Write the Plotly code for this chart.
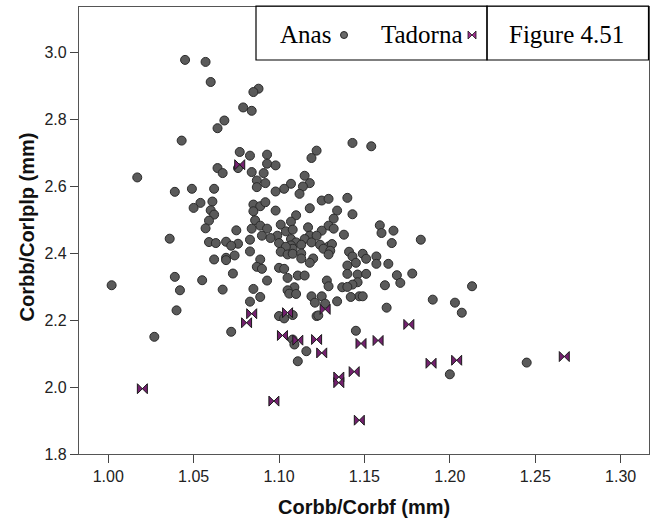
import plotly.graph_objects as go

# ---------------- data ----------------
anas_x = [1.045, 1.057, 1.060, 1.068, 1.064, 1.043, 1.017, 1.064, 1.067, 1.049,
          1.039, 1.062, 1.054, 1.050, 1.061, 1.060, 1.062, 1.059, 1.057, 1.036,
          1.059, 1.063, 1.069, 1.062, 1.069, 1.069, 1.039, 1.055, 1.042, 1.067,
          1.040, 1.002, 1.027, 1.072,
          1.088, 1.085, 1.079, 1.084, 1.077, 1.083, 1.093, 1.122, 1.119, 1.143, 1.154,
          1.076, 1.093, 1.098, 1.084, 1.091, 1.115, 1.087, 1.092, 1.087, 1.107,
          1.118, 1.114, 1.103, 1.098, 1.112, 1.140, 1.125, 1.129, 1.085, 1.089,
          1.092, 1.085, 1.118, 1.098, 1.134, 1.143, 1.110, 1.132, 1.086, 1.107,
          1.089, 1.101, 1.129, 1.159, 1.117, 1.093, 1.084, 1.075, 1.104, 1.108,
          1.125, 1.132, 1.167, 1.160, 1.138, 1.090, 1.099, 1.095, 1.118, 1.122,
          1.115, 1.107, 1.083, 1.100, 1.119, 1.110, 1.107, 1.183, 1.166, 1.076,
          1.072, 1.113, 1.124, 1.129, 1.131, 1.126, 1.108, 1.104, 1.083, 1.101,
          1.105, 1.108, 1.113, 1.130, 1.129, 1.141, 1.143, 1.149, 1.157, 1.151,
          1.113, 1.120, 1.118, 1.074, 1.089, 1.145, 1.140, 1.157, 1.164, 1.087,
          1.090, 1.100, 1.103, 1.073, 1.140, 1.146, 1.151, 1.169, 1.178, 1.111,
          1.115, 1.105, 1.093, 1.128, 1.146, 1.143, 1.171, 1.129, 1.137, 1.140,
          1.162, 1.085, 1.109, 1.105, 1.106, 1.110, 1.147, 1.149, 1.142, 1.089,
          1.119, 1.125, 1.083, 1.121, 1.127, 1.134, 1.163,
          1.100, 1.103, 1.108, 1.122, 1.123, 1.145, 1.108, 1.109, 1.116, 1.111,
          1.213, 1.190, 1.203, 1.207, 1.200, 1.245]
anas_y = [2.977, 2.971, 2.911, 2.796, 2.773, 2.736, 2.626, 2.654, 2.639, 2.592,
          2.583, 2.592, 2.550, 2.535, 2.554, 2.528, 2.515, 2.497, 2.474, 2.443,
          2.433, 2.430, 2.434, 2.381, 2.386, 2.379, 2.329, 2.319, 2.289, 2.291,
          2.229, 2.304, 2.150, 2.165,
          2.891, 2.881, 2.835, 2.825, 2.702, 2.691, 2.694, 2.706, 2.684, 2.729, 2.719,
          2.654, 2.667, 2.662, 2.642, 2.639, 2.631, 2.617, 2.609, 2.597, 2.607,
          2.609, 2.599, 2.592, 2.584, 2.577, 2.565, 2.557, 2.562, 2.545, 2.540,
          2.552, 2.525, 2.534, 2.527, 2.527, 2.516, 2.513, 2.503, 2.498, 2.494,
          2.482, 2.485, 2.482, 2.483, 2.477, 2.473, 2.473, 2.468, 2.465, 2.470,
          2.467, 2.473, 2.467, 2.460, 2.455, 2.452, 2.452, 2.445, 2.452, 2.452,
          2.442, 2.442, 2.440, 2.430, 2.432, 2.432, 2.423, 2.440, 2.430, 2.428,
          2.422, 2.425, 2.425, 2.420, 2.427, 2.413, 2.413, 2.419, 2.405, 2.404,
          2.396, 2.398, 2.399, 2.407, 2.396, 2.404, 2.390, 2.398, 2.390, 2.383,
          2.384, 2.384, 2.371, 2.393, 2.381, 2.371, 2.363, 2.368, 2.368, 2.359,
          2.353, 2.356, 2.353, 2.339, 2.338, 2.336, 2.338, 2.334, 2.339, 2.333,
          2.333, 2.326, 2.318, 2.318, 2.313, 2.306, 2.311, 2.301, 2.298, 2.299,
          2.304, 2.293, 2.298, 2.289, 2.279, 2.278, 2.271, 2.271, 2.269, 2.269,
          2.271, 2.271, 2.255, 2.252, 2.249, 2.256, 2.237,
          2.212, 2.205, 2.215, 2.212, 2.214, 2.168, 2.142, 2.127, 2.107, 2.077,
          2.301, 2.261, 2.252, 2.222, 2.038, 2.073]

tadorna_x = [1.020, 1.077, 1.084, 1.081, 1.105, 1.127, 1.102, 1.111, 1.122, 1.148,
             1.158, 1.125, 1.176, 1.189, 1.204, 1.267, 1.144, 1.135, 1.135, 1.097,
             1.147]
tadorna_y = [1.995, 2.664, 2.219, 2.192, 2.222, 2.232, 2.154, 2.140, 2.142, 2.130,
             2.139, 2.102, 2.187, 2.071, 2.080, 2.091, 2.046, 2.030, 2.013, 1.958,
             1.901]

x_ticks = [1.00, 1.05, 1.10, 1.15, 1.20, 1.25, 1.30]
y_ticks = [1.8, 2.0, 2.2, 2.4, 2.6, 2.8, 3.0]
x_title = "Corbb/Corbf (mm)"
y_title = "Corbb/Corlplp (mm)"
series_names = ["Anas", "Tadorna"]
figure_label = "Figure 4.51"

# ---------------- layout helpers ----------------
W, H = 658, 524
ML, MR, MT, MB = 79, 9, 7, 70
PW, PH = W - ML - MR, H - MT - MB


def px(xp):
    return (xp - ML) / PW


def py(yp):
    return (H - MB - yp) / PH


ANAS_FILL = "#5a5a5a"
ANAS_LINE = "#2a2a2a"
TAD_FILL = "#74206f"
TAD_LINE = "#1a1a1a"

fig = go.Figure()

fig.add_trace(go.Scatter(
    x=anas_x, y=anas_y, mode="markers", name=series_names[0],
    marker=dict(symbol="circle", size=9, color=ANAS_FILL,
                line=dict(color=ANAS_LINE, width=1)),
    showlegend=False))

fig.add_trace(go.Scatter(
    x=tadorna_x, y=tadorna_y, mode="markers", name=series_names[1],
    marker=dict(symbol="bowtie", size=10, color=TAD_FILL,
                line=dict(color=TAD_LINE, width=1)),
    showlegend=False))

# legend key markers on an overlay axis that spans the plot area in [0,1]
fig.add_trace(go.Scatter(
    x=[px(344)], y=[py(35)], mode="markers", xaxis="x2", yaxis="y2",
    marker=dict(symbol="circle", size=7, color="#6a6a6a",
                line=dict(color=ANAS_LINE, width=1)),
    showlegend=False, cliponaxis=False, hoverinfo="skip"))
fig.add_trace(go.Scatter(
    x=[px(472)], y=[py(35)], mode="markers", xaxis="x2", yaxis="y2",
    marker=dict(symbol="bowtie", size=8, color="#a0308f",
                line=dict(color=TAD_LINE, width=0.8)),
    showlegend=False, cliponaxis=False, hoverinfo="skip"))

axis_common = dict(
    showgrid=False, zeroline=False, showline=True, linecolor="#555555",
    linewidth=1.3, mirror=True, ticks="outside", tickcolor="#444444",
    tickwidth=1.2, ticklen=8,
    tickfont=dict(family="Liberation Sans, Arial, sans-serif", size=16,
                  color="#222222"),
)

fig.update_layout(
    width=W, height=H,
    margin=dict(l=ML, r=MR, t=MT, b=MB, pad=0),
    paper_bgcolor="white", plot_bgcolor="white",
    xaxis=dict(range=[0.9829, 1.3166], tickvals=x_ticks,
               ticktext=[f"{v:.2f}" for v in x_ticks], **axis_common),
    yaxis=dict(range=[1.8, 3.135], tickvals=y_ticks,
               ticktext=[f"{v:.1f}" for v in y_ticks], **axis_common),
    xaxis2=dict(overlaying="x", range=[0, 1], visible=False, fixedrange=True),
    yaxis2=dict(overlaying="y", range=[0, 1], visible=False, fixedrange=True),
    showlegend=False,
)

# legend / label boxes
for x0, x1 in [(256, 487), (487, 648.5)]:
    fig.add_shape(type="rect", xref="paper", yref="paper",
                  x0=px(x0), x1=px(x1), y0=py(60), y1=py(6),
                  line=dict(color="black", width=1.2),
                  fillcolor="rgba(0,0,0,0)", layer="above")

serif = dict(family="Liberation Serif, Times New Roman, serif", size=25,
             color="black")
fig.add_annotation(x=px(333), y=py(34), xref="paper", yref="paper",
                   text=series_names[0], showarrow=False, xanchor="right",
                   yanchor="middle", font=serif)
fig.add_annotation(x=px(465), y=py(34), xref="paper", yref="paper",
                   text=series_names[1], showarrow=False, xanchor="right",
                   yanchor="middle", font=serif)
fig.add_annotation(x=px(566), y=py(34), xref="paper", yref="paper",
                   text=figure_label, showarrow=False, xanchor="center",
                   yanchor="middle", font=serif)

# axis titles
title_font = dict(family="Liberation Sans, Arial, sans-serif", size=20,
                  color="#111111")
fig.add_annotation(x=px(363.5), y=py(507), xref="paper", yref="paper",
                   text=f"<b>{x_title}</b>", showarrow=False,
                   xanchor="center", yanchor="middle", font=title_font)
fig.add_annotation(x=px(26.5), y=py(227), xref="paper", yref="paper",
                   text=f"<b>{y_title}</b>", showarrow=False, textangle=-90,
                   xanchor="center", yanchor="middle", font=title_font)

fig.write_html("out.html", config={"displayModeBar": False},
               post_script="document.body.style.margin='0';"
                           "document.body.style.padding='0';")
